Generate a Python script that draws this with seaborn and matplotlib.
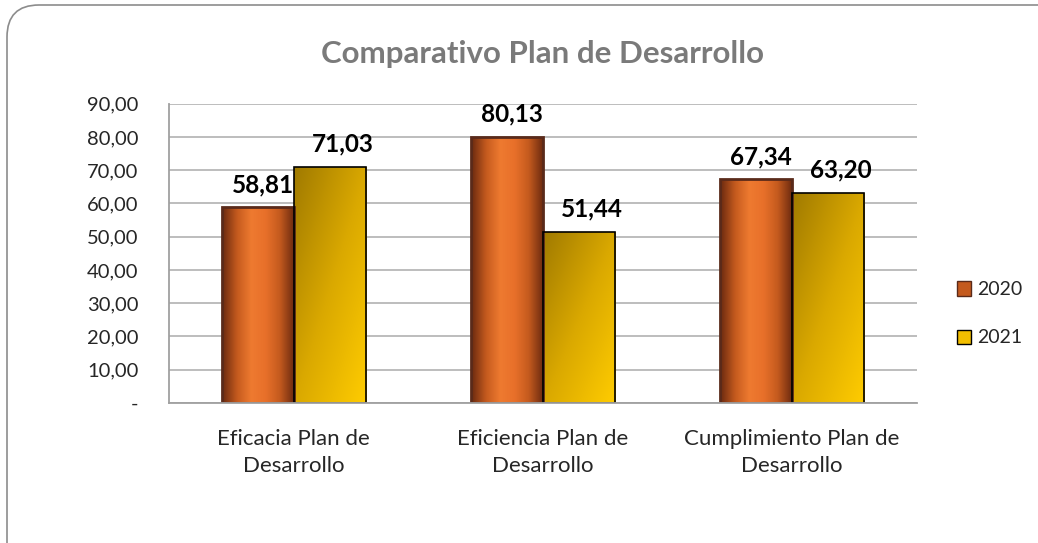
import numpy as np
import pandas as pd
import matplotlib
matplotlib.use("Agg")
import matplotlib.pyplot as plt
import seaborn as sns
from matplotlib.patches import FancyBboxPatch, Patch
from matplotlib.transforms import IdentityTransform
from matplotlib.colors import LinearSegmentedColormap

# datos del gráfico
categorias = ["Eficacia Plan de\nDesarrollo", "Eficiencia Plan de\nDesarrollo", "Cumplimiento Plan de\nDesarrollo"]
anios = ["2020", "2021"]
valores_2020 = [58.81, 80.13, 67.34]
valores_2021 = [71.03, 51.44, 63.20]

df = pd.DataFrame({
    "Categoria": categorias * 2,
    "Anio": [anios[0]] * 3 + [anios[1]] * 3,
    "Valor": valores_2020 + valores_2021,
})

sns.set_theme(style="white")
plt.rcParams["font.family"] = ["Lato", "DejaVu Sans"]

fig = plt.figure(figsize=(10.38, 5.43), dpi=100)
ax = fig.add_axes([0.163, 0.258, 0.72, 0.551])

colores = {"2020": "#d9621f", "2021": "#e6b000"}
sns.barplot(data=df, x="Categoria", y="Valor", hue="Anio", palette=colores,
            width=0.58, ax=ax, legend=False, saturation=1)

ax.set_ylim(0, 90)
ax.set_xlim(-0.5, 2.5)
xl, yl = ax.get_xlim(), ax.get_ylim()

# degradados
cmap_2020 = LinearSegmentedColormap.from_list("c20", ["#6b2a10", "#c45a1e", "#ee7a30", "#e8702a", "#c45a1e", "#6b2a10"])
cmap_2021 = LinearSegmentedColormap.from_list("c21", ["#a07a00", "#d9a800", "#ffcc00"])
for cont, anio in zip(ax.containers, anios):
    for bar in cont:
        x0, y0 = bar.get_x(), bar.get_y()
        w, h = bar.get_width(), bar.get_height()
        if anio == "2020":
            grad = np.tile(np.linspace(0, 1, 64), (64, 1))
            cm = cmap_2020
            bar.set_edgecolor("#5a2a1a")
            bar.set_linewidth(2)
        else:
            gx, gy = np.meshgrid(np.linspace(0, 1, 64), np.linspace(0, 1, 64))
            grad = (gx + gy) / 2
            cm = cmap_2021
            bar.set_edgecolor("black")
            bar.set_linewidth(1.2)
        im = ax.imshow(grad, cmap=cm, extent=[x0, x0 + w, y0, y0 + h],
                       aspect="auto", origin="upper", zorder=bar.get_zorder() - 0.01,
                       interpolation="bicubic")
        im.set_clip_path(bar)
        bar.set_facecolor("none")
        ax.annotate(f"{bar.get_height():.2f}".replace(".", ","),
                    (x0 + w / 2 + (0.02 if anio == "2020" else 0.05), y0 + h),
                    xytext=(0, 8), textcoords="offset points",
                    ha="center", va="bottom", fontsize=17.5, fontweight="bold", color="black")

ax.set_xlim(xl)
ax.set_ylim(yl)

ax.set_yticks(np.arange(0, 91, 10))
ax.set_yticklabels(["-"] + [f"{v:.2f}".replace(".", ",") for v in np.arange(10, 91, 10)],
                   fontsize=14.5)
ax.yaxis.grid(True, color="#b8b8b8", linewidth=1.3)
ax.set_axisbelow(True)
ax.tick_params(axis="x", labelsize=16, pad=19, length=0)
ax.tick_params(axis="y", pad=22, length=0)
for t in ax.get_xticklabels():
    t.set_linespacing(1.45)
ax.set_xlabel("")
ax.set_ylabel("")
for s in ["top", "right"]:
    ax.spines[s].set_visible(False)
for s in ["left", "bottom"]:
    ax.spines[s].set_color("#a0a0a0")
    ax.spines[s].set_linewidth(1.3)

fig.text(0.523, 0.9, "Comparativo Plan de Desarrollo", ha="center", va="center",
         fontsize=22.5, fontweight="bold", color="#7a7a7a")

handles = [Patch(facecolor="#c45a1e", edgecolor="#5a2a1a", label="2020"),
           Patch(facecolor="#f2be00", edgecolor="black", label="2021")]
fig.legend(handles=handles, loc="center left", bbox_to_anchor=(0.905, 0.422),
           frameon=False, fontsize=14, handlelength=0.75, handleheight=0.75,
           handletextpad=0.3, labelspacing=1.6)

marco = FancyBboxPatch((7, -60), 1120, 538 + 60, boxstyle="round,pad=0,rounding_size=32",
                       transform=IdentityTransform(), facecolor="none",
                       edgecolor="#8c8c8c", linewidth=1.2)
fig.patches.append(marco)

fig.savefig("out.png", dpi=100)
